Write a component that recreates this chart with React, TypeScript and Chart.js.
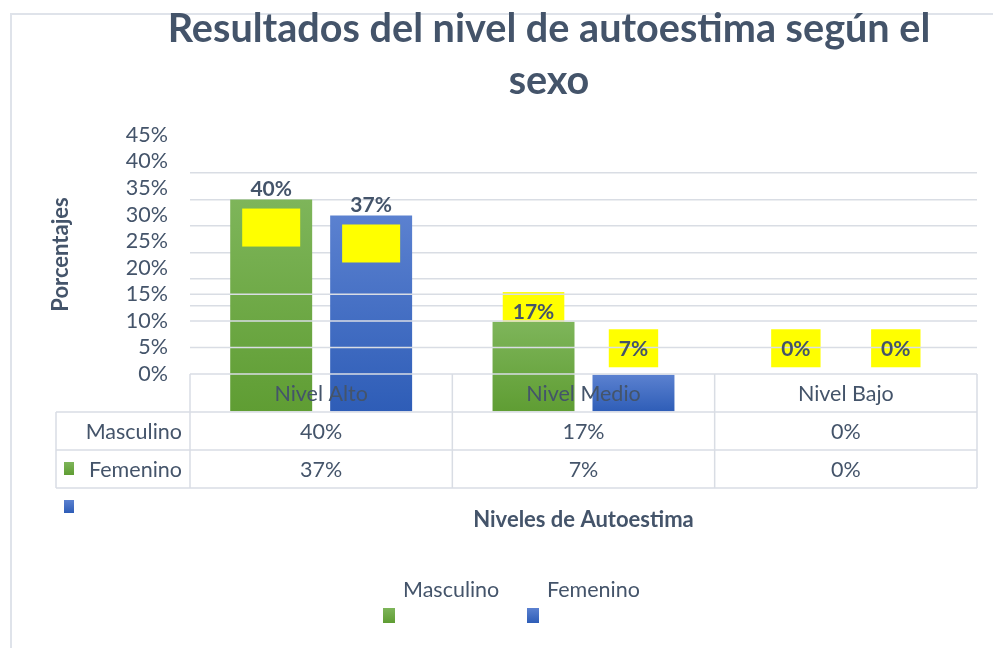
import React, { useEffect, useRef } from "react";
import { Chart, registerables } from "chart.js";

Chart.register(...registerables);

// ---------- data ----------
const categories = ["Nivel Alto", "Nivel Medio", "Nivel Bajo"];
const seriesNames = ["Masculino", "Femenino"];
const masculino = [40, 17, 0];
const femenino = [37, 7, 0];
const yMin = 0;
const yMax = 45;
const yStep = 5;
const titleLines = ["Resultados del nivel de autoestima según el", "sexo"];
const yTitle = "Porcentajes";
const xTitle = "Niveles de Autoestima";

// ---------- styles ----------
const FONT = "Lato, 'Open Sans', 'DejaVu Sans', sans-serif";
const TEXT = "#44546a";
const GRID = "#d9dde4";
const FRAME = "#dfe3ea";
const YELLOW = "#ffff00";
const GREEN_TOP = "#7eb55a";
const GREEN_BOT = "#5f9d33";
const BLUE_TOP = "#5b81d0";
const BLUE_BOT = "#2e5db7";
const SHIFT = 38; // label/visual offset of the value axis
const TITLE_X = 549;
const TITLE_W = 763;
const ROW_H = 38;
const TABLE_LEFT = 56;
const BODY_SIZE = 21.5;
const LABEL_SIZE = 21;

const fmt = (v: number) => `${v}%`;

function gradientFill(top: string, bot: string) {
  return (ctx: any) => {
    const chart = ctx.chart;
    const area = chart.chartArea;
    const ys = chart.scales && chart.scales.y;
    if (!area || !ys || ctx.raw === undefined) return bot;
    const yTop = ys.getPixelForValue(ctx.raw);
    const g = chart.ctx.createLinearGradient(0, Math.min(yTop, area.bottom - 1), 0, area.bottom);
    g.addColorStop(0, top);
    g.addColorStop(1, bot);
    return g;
  };
}

const seriesData = [masculino, femenino];
const seriesColors = [
  [GREEN_TOP, GREEN_BOT],
  [BLUE_TOP, BLUE_BOT],
];

function drawSquare(c: CanvasRenderingContext2D, x: number, y: number, w: number, h: number, cols: string[]) {
  const g = c.createLinearGradient(0, y, 0, y + h);
  g.addColorStop(0, cols[0]);
  g.addColorStop(1, cols[1]);
  c.fillStyle = g;
  c.fillRect(x, y, w, h);
}

const decorPlugin = {
  id: "decor",
  beforeDraw(chart: any) {
    const c: CanvasRenderingContext2D = chart.ctx;
    c.save();
    // frame
    c.strokeStyle = FRAME;
    c.lineWidth = 2;
    c.beginPath();
    c.moveTo(11, chart.height);
    c.lineTo(11, 14);
    c.lineTo(chart.width, 14);
    c.stroke();
    // title
    c.fillStyle = TEXT;
    c.font = `bold 40px ${FONT}`;
    const w = c.measureText(titleLines[0]).width;
    const size = (40 * TITLE_W) / w;
    c.font = `bold ${size.toFixed(1)}px ${FONT}`;
    c.textAlign = "center";
    c.textBaseline = "middle";
    titleLines.forEach((t, i) => c.fillText(t, TITLE_X, 29 + i * 52));
    c.restore();
  },
  beforeDatasetsDraw(chart: any) {
    const c: CanvasRenderingContext2D = chart.ctx;
    const ys = chart.scales.y;
    c.save();
    c.font = `bold ${LABEL_SIZE}px ${FONT}`;
    seriesData.forEach((data, d) => {
      const meta = chart.getDatasetMeta(d);
      data.forEach((v, i) => {
        if (v >= 30) return;
        const bar = meta.data[i];
        const cy = ys.getPixelForValue(Math.max(v + 2, 12));
        const tw = c.measureText(fmt(v)).width + 20;
        c.fillStyle = YELLOW;
        c.fillRect(bar.x - tw / 2, cy - ROW_H / 2, tw, ROW_H);
      });
    });
    c.restore();
  },
  afterDatasetsDraw(chart: any) {
    const c: CanvasRenderingContext2D = chart.ctx;
    const ys = chart.scales.y;
    const xs = chart.scales.x;
    const area = chart.chartArea;
    const catW = (area.right - area.left) / categories.length;
    const headTop = ys.getPixelForValue(0) - SHIFT;
    const tableTop = area.bottom;
    const tableBot = tableTop + ROW_H * seriesNames.length;
    c.save();
    c.strokeStyle = GRID;
    c.lineWidth = 1.5;
    // shifted grid lines over the bars
    for (let v = yMin; v < 20; v += yStep) {
      const y = ys.getPixelForValue(v) - SHIFT;
      c.beginPath();
      c.moveTo(area.left, y);
      c.lineTo(area.right, y);
      c.stroke();
    }
    // table rows
    for (let r = 0; r <= seriesNames.length; r++) {
      const y = tableTop + r * ROW_H;
      c.beginPath();
      c.moveTo(TABLE_LEFT, y);
      c.lineTo(area.right, y);
      c.stroke();
    }
    // table columns
    c.beginPath();
    c.moveTo(TABLE_LEFT, tableTop);
    c.lineTo(TABLE_LEFT, tableBot);
    c.stroke();
    for (let i = 0; i <= categories.length; i++) {
      const x = area.left + i * catW;
      c.beginPath();
      c.moveTo(x, headTop);
      c.lineTo(x, tableBot);
      c.stroke();
    }
    // category labels
    c.fillStyle = TEXT;
    c.font = `${BODY_SIZE}px ${FONT}`;
    c.textAlign = "center";
    c.textBaseline = "middle";
    categories.forEach((cat, i) => {
      c.fillText(cat, xs.getPixelForValue(i), (headTop + tableTop) / 2 + 1);
    });
    // table values
    seriesNames.forEach((name, r) => {
      const cy = tableTop + r * ROW_H + ROW_H / 2 + 1;
      c.textAlign = "right";
      c.fillText(name, area.left - 8, cy);
      c.textAlign = "center";
      seriesData[r].forEach((v, i) => c.fillText(fmt(v), xs.getPixelForValue(i), cy));
    });
    // stray legend keys of the table
    seriesNames.forEach((_, r) => {
      drawSquare(c, 64, tableTop + 50 + r * ROW_H, 10, 13, seriesColors[r]);
    });
    // data labels
    c.font = `bold ${LABEL_SIZE}px ${FONT}`;
    seriesData.forEach((data, d) => {
      const meta = chart.getDatasetMeta(d);
      data.forEach((v, i) => {
        const bar = meta.data[i];
        c.fillStyle = TEXT;
        c.textAlign = "center";
        c.textBaseline = "middle";
        if (v >= 30) {
          c.fillText(fmt(v), bar.x, bar.y - 10);
          c.fillStyle = YELLOW;
          c.fillRect(bar.x - 29, bar.y + 9, 58, ROW_H);
        } else {
          const cy = ys.getPixelForValue(Math.max(v + 2, 12));
          c.fillText(fmt(v), bar.x, cy + 1);
        }
      });
    });
    // y title
    c.save();
    c.font = `bold 22px ${FONT}`;
    c.fillStyle = TEXT;
    c.translate(61, ys.getPixelForValue((yMin + yMax) / 2) - SHIFT);
    c.rotate(-Math.PI / 2);
    c.textAlign = "center";
    c.textBaseline = "middle";
    c.fillText(yTitle, 0, 0);
    c.restore();
    // legend
    c.font = `${BODY_SIZE}px ${FONT}`;
    c.textAlign = "left";
    c.textBaseline = "middle";
    const legendX = [403, 547];
    seriesNames.forEach((name, r) => {
      c.fillStyle = TEXT;
      c.fillText(name, legendX[r], 590);
      drawSquare(c, legendX[r] - 20, 608, 12, 15, seriesColors[r]);
    });
    c.restore();
  },
};

export default function App() {
  const ref = useRef<HTMLCanvasElement | null>(null);
  useEffect(() => {
    if (!ref.current) return;
    Chart.defaults.font.family = FONT;
    const chart = new Chart(ref.current, {
      type: "bar",
      data: {
        labels: categories,
        datasets: seriesNames.map((name, d) => ({
          label: name,
          data: seriesData[d],
          backgroundColor: gradientFill(seriesColors[d][0], seriesColors[d][1]),
          borderWidth: 0,
          categoryPercentage: 0.762,
          barPercentage: 0.82,
        })),
      },
      options: {
        responsive: false,
        animation: false,
        devicePixelRatio: 1,
        layout: { padding: { left: 0, right: 16, top: 173, bottom: 115 } },
        plugins: {
          legend: { display: false },
          tooltip: { enabled: false },
          title: { display: false },
        },
        scales: {
          x: {
            type: "category",
            ticks: { display: false },
            grid: { display: false },
            border: { display: false },
            title: {
              display: true,
              text: xTitle,
              color: TEXT,
              font: { size: 22, weight: "bold", family: FONT },
              padding: 0,
            },
            afterFit(s: any) {
              s.height = 121;
            },
          },
          y: {
            min: yMin,
            max: yMax,
            ticks: {
              stepSize: yStep,
              autoSkip: false,
              callback: (v: any) => fmt(Number(v)),
              color: TEXT,
              font: { size: BODY_SIZE, family: FONT },
              padding: 22,
              labelOffset: -SHIFT,
            },
            grid: {
              color: (ctx: any) => (ctx.tick && ctx.tick.value >= 20 ? GRID : "rgba(0,0,0,0)"),
              lineWidth: 1.5,
              drawTicks: false,
            },
            border: { display: false },
            afterFit(s: any) {
              s.width = 190;
            },
          },
        },
      },
      plugins: [decorPlugin],
    } as any);
    return () => chart.destroy();
  }, []);
  return (
    <div style={{ position: "absolute", left: 0, top: 0, width: 993, height: 648, background: "#fff" }}>
      <canvas ref={ref} width={993} height={648} style={{ display: "block" }} />
    </div>
  );
}
